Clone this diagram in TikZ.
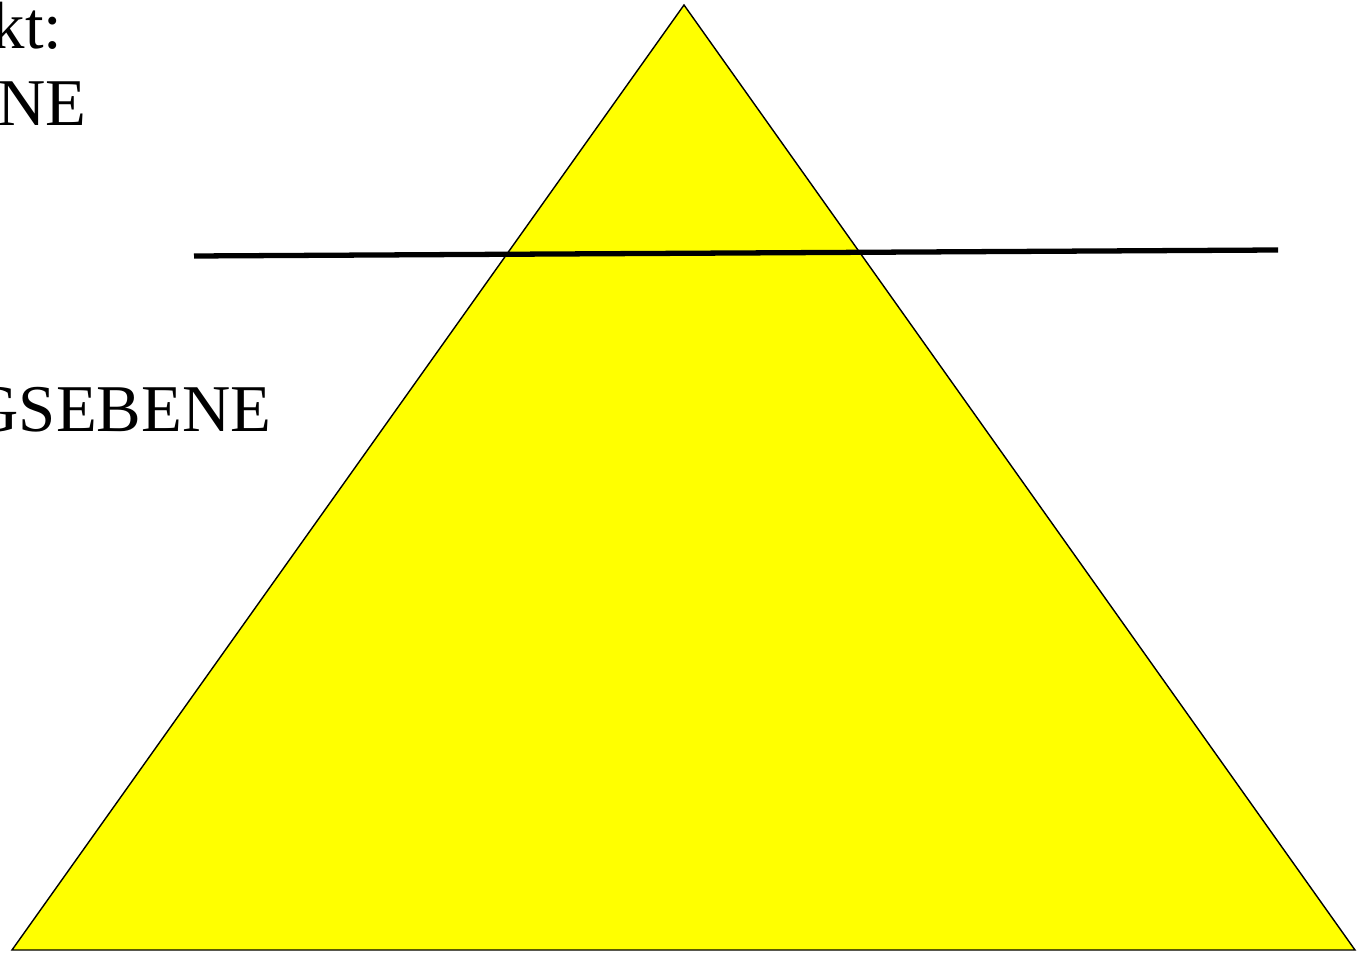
\documentclass[tikz,border=0pt]{standalone}
\usepackage{fontspec}
\setmainfont{Liberation Serif}
\usepackage{tikz}
\usetikzlibrary{positioning}

\definecolor{pyramidyellow}{RGB}{255,255,0}

\tikzset{
  label text/.style={inner sep=0, anchor=base east, font=\fontsize{19}{23}\selectfont},
}

\begin{document}
\begin{tikzpicture}[x=0.01cm, y=-0.01cm]

\useasboundingbox (0,0) rectangle (1361,955);

\coordinate (apex) at (684,5);
\coordinate (left) at (12,950);
\coordinate (right) at (1355,950);

\draw[fill=pyramidyellow, line width=.4pt]
  (left) -- (apex) -- (right) -- cycle;

\coordinate (cutA) at (194,256);
\coordinate (cutB) at (1278,250);

\draw[line width=1.5pt]
  (cutA) to (cutB);

\begin{scope}
\clip (0,0) rectangle (1361,955);
\node[label text] (top) at (63,49) {kt:};
\node[label text] (level) at (87,126) {NE};
\node[label text] (base) at (272,432) {GSEBENE};
\end{scope}

\end{tikzpicture}
\end{document}
